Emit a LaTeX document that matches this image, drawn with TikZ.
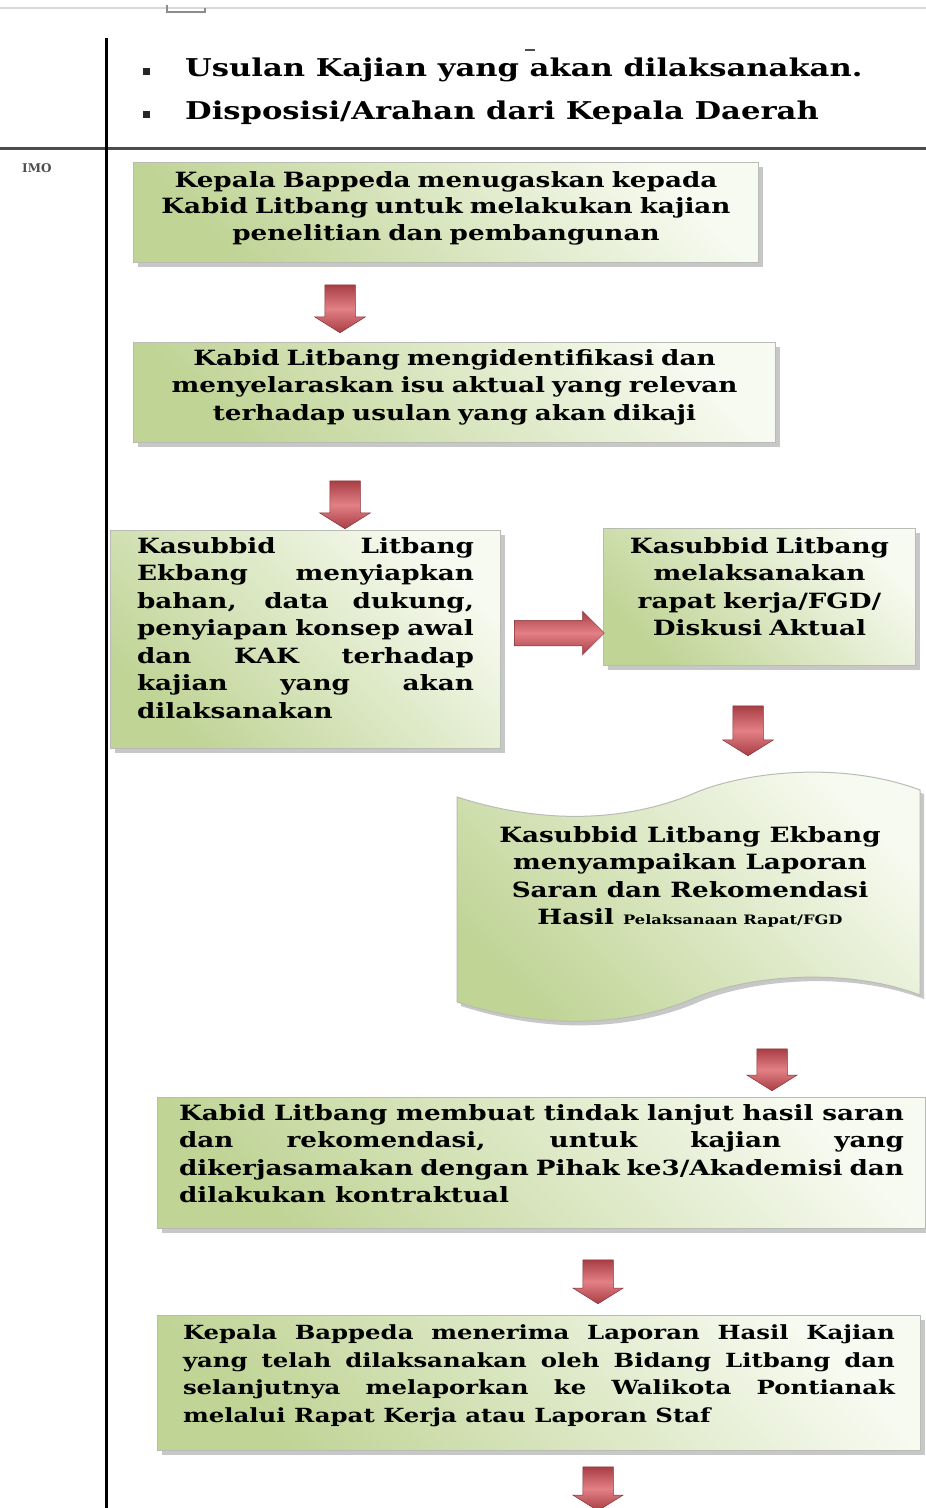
\documentclass[tikz,border=0pt]{standalone}
\usepackage{fontspec}
\setmainfont{DejaVu Serif}
\newfontfamily\boxfont[FakeStretch=1.25]{DejaVu Serif Bold}
\usetikzlibrary{shapes.arrows,shadows}
\definecolor{boxgreen}{RGB}{192,212,150}
\definecolor{boxlight}{RGB}{247,250,240}
\definecolor{boxline}{RGB}{185,188,180}
\definecolor{arrdark}{RGB}{168,62,68}
\definecolor{arrlight}{RGB}{226,128,134}
\tikzstyle{block} = [rectangle,draw=boxline,line width=1pt,top color=boxlight,bottom color=boxgreen,shading angle=-45,drop shadow={shadow xshift=4pt,shadow yshift=-4pt,fill=black!40,opacity=0.55},inner sep=0pt,anchor=north west,font=\boxfont\fontsize{21}{27.5}\selectfont]
\tikzstyle{flow} = [single arrow,single arrow head extend=10pt,single arrow tip angle=116,inner sep=15pt,minimum height=48pt,top color=arrdark,bottom color=arrdark,middle color=arrlight,draw=arrdark!80!black,line width=0.5pt]
\tikzstyle{item} = [anchor=west,inner sep=0pt,font=\boxfont\fontsize{24.5}{30}\selectfont]
\tikzstyle{dot} = [fill=black!85,inner sep=0pt,minimum size=7pt]

\begin{document}
\begin{tikzpicture}[x=1pt,y=-1pt]
	\useasboundingbox (0,0) rectangle (926,1508);
	% page rules
	\draw [black!15,line width=2pt] (0,8) -- (926,8);
	\draw [black!45,line width=1.5pt] (167,5) -- (167,12) -- (205,12) -- (205,8);
	\draw [black!70,line width=1.5pt] (525,50) -- (535,50);
	\draw [black!70,line width=3pt] (0,148) -- (926,148);
	\draw [black,line width=3pt] (106,38) -- (106,1508);
	\node (lbl) [anchor=west,inner sep=0pt,font=\bfseries\fontsize{12}{14}\selectfont,text=black!70] at (22,168) {IMO};
	% input list
	\node (dot1) [dot] at (146,71) {};
	\node (dot2) [dot] at (146,114) {};
	\node (usulan) [item] at (185,70) {Usulan Kajian yang akan dilaksanakan.};
	\node (arahan) [item] at (185,113) {Disposisi/Arahan dari Kepala Daerah};
	% steps
	\node (tugas) [block,minimum width=625pt,minimum height=100pt,text width=600pt,align=center,text depth=66pt] at (133,162) {\baselineskip=26pt Kepala Bappeda menugaskan kepada\\Kabid Litbang untuk melakukan kajian\\penelitian dan pembangunan};
	\node (isu) [block,minimum width=642pt,minimum height=100pt,text width=615pt,align=center,text depth=70pt] at (133,342) {Kabid Litbang mengidentifikasi dan\\menyelaraskan isu aktual yang relevan\\terhadap usulan yang akan dikaji};
	\node (bahan) [block,minimum width=390pt,minimum height=218pt,text width=337pt,align=justify,text depth=188pt] at (110,530) {Kasubbid Litbang\linebreak Ekbang menyiapkan\linebreak bahan, data dukung,\linebreak penyiapan konsep awal\linebreak dan KAK terhadap\linebreak kajian yang akan\linebreak dilaksanakan};
	\node (rapat) [block,minimum width=312pt,minimum height=137pt,text width=290pt,align=center,text depth=103pt] at (603,528) {Kasubbid Litbang\\melaksanakan\\rapat kerja/FGD/\\Diskusi Aktual};
	% punched tape
	\draw [draw=boxline,line width=1pt,top color=boxlight,bottom color=boxgreen,shading angle=-45,drop shadow={shadow xshift=4pt,shadow yshift=-4pt,fill=black!40,opacity=0.55}]
		(457,797) .. controls (560,830) and (640,815) .. (690,795) .. controls (740,772) and (840,760) .. (920,790)
		-- (920,995) .. controls (840,965) and (740,977) .. (690,1000) .. controls (640,1020) and (560,1035) .. (457,1002) -- cycle;
	\node (saran) [align=center,inner sep=0pt,font=\boxfont\fontsize{21}{27.5}\selectfont] at (690,877) {Kasubbid Litbang Ekbang\\menyampaikan Laporan\\Saran dan Rekomendasi\\Hasil {\fontsize{13}{16}\selectfont Pelaksanaan Rapat/FGD}};
	\node (tindak) [block,minimum width=768pt,minimum height=131pt,text width=725pt,align=justify,text depth=101pt] at (157,1097) {Kabid Litbang membuat tindak lanjut hasil saran\linebreak dan rekomendasi, untuk kajian yang\linebreak dikerjasamakan dengan Pihak ke3/Akademisi dan\linebreak dilakukan kontraktual};
	\node (lapor) [block,minimum width=763pt,minimum height=135pt,text width=712pt,align=justify,text depth=101pt,font=\boxfont\fontsize{19.5}{27.5}\selectfont] at (157,1315) {Kepala Bappeda menerima Laporan Hasil Kajian\linebreak yang telah dilaksanakan oleh Bidang Litbang dan\linebreak selanjutnya melaporkan ke Walikota Pontianak\linebreak melalui Rapat Kerja atau Laporan Staf};
	% arrows
	\node (a1) [flow,rotate=-90] at (340,304) {};
	\node (a2) [flow,rotate=-90] at (345,500) {};
	\node (a3) [flow,minimum height=90pt,inner sep=12.5pt,single arrow head extend=9pt,single arrow tip angle=90] at (553,633) {};
	\node (a4) [flow,rotate=-90,minimum height=50pt] at (748,726) {};
	\node (a5) [flow,rotate=-90,minimum height=42pt] at (772,1065) {};
	\node (a6) [flow,rotate=-90,minimum height=44pt] at (598,1277) {};
	\node (a7) [flow,rotate=-90,minimum height=44pt] at (598,1484) {};
\end{tikzpicture}
\end{document}
